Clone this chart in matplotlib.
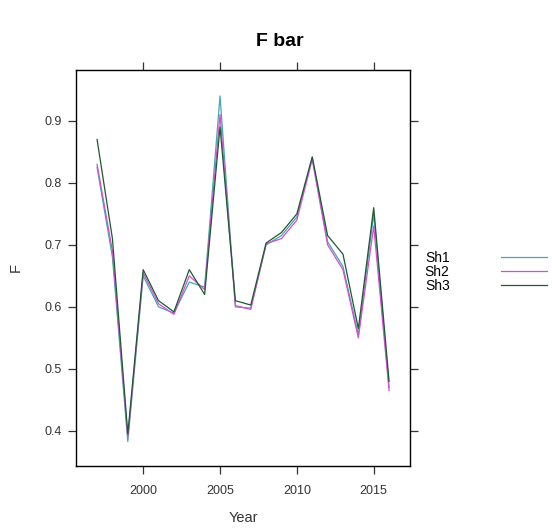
import matplotlib
matplotlib.use("Agg")
import matplotlib.pyplot as plt

plt.rcParams['font.family'] = ['Liberation Sans', 'DejaVu Sans']

# data
years = list(range(1997, 2017))
sh1 = [0.825, 0.68, 0.383, 0.650, 0.600, 0.590, 0.640, 0.632, 0.940, 0.600,
       0.598, 0.700, 0.715, 0.745, 0.840, 0.705, 0.665, 0.555, 0.750, 0.470]
sh2 = [0.830, 0.69, 0.390, 0.655, 0.605, 0.588, 0.650, 0.628, 0.910, 0.602,
       0.596, 0.702, 0.710, 0.740, 0.838, 0.700, 0.660, 0.550, 0.730, 0.465]
sh3 = [0.870, 0.71, 0.395, 0.660, 0.610, 0.592, 0.660, 0.620, 0.890, 0.610,
       0.603, 0.703, 0.720, 0.750, 0.842, 0.715, 0.685, 0.565, 0.760, 0.480]
labels = ["Sh1", "Sh2", "Sh3"]
colors = ["#45a6ac", "#d24fd2", "#1e5a32"]

fig = plt.figure(figsize=(5.52, 5.30), dpi=100)
ax = fig.add_axes([0.1377, 0.1208, 0.6053, 0.7472])

for vals, lab, col in zip([sh1, sh2, sh3], labels, colors):
    ax.plot(years, vals, color=col, lw=0.9, label=lab)

ax.set_xlim(1995.63, 2017.37)
ax.set_ylim(0.3435, 0.982)
ax.set_xticks([2000, 2005, 2010, 2015])
ax.set_yticks([0.4, 0.5, 0.6, 0.7, 0.8, 0.9])
ax.tick_params(direction='out', length=6, width=0.9, labelsize=9,
               top=True, right=True, labeltop=False, labelright=False,
               colors='#333333', labelcolor='#333333', pad=4)
ax.tick_params(axis='x', pad=8)
for sp in ax.spines.values():
    sp.set_linewidth(1.0)

ax.set_xlabel("Year", fontsize=10.5, color='#333333', labelpad=10)
ax.set_ylabel("F", fontsize=10.5, color='#333333', labelpad=16)
fig.text(0.507, 0.922, "F bar", ha='center', va='center',
         fontsize=14, fontweight='bold')

fig.legend(loc='center left', bbox_to_anchor=(0.757, 0.487), frameon=False,
           markerfirst=False, fontsize=10, handlelength=3.3,
           handletextpad=3.7, labelspacing=0.02, borderpad=0)

fig.savefig("out.png", dpi=100)
